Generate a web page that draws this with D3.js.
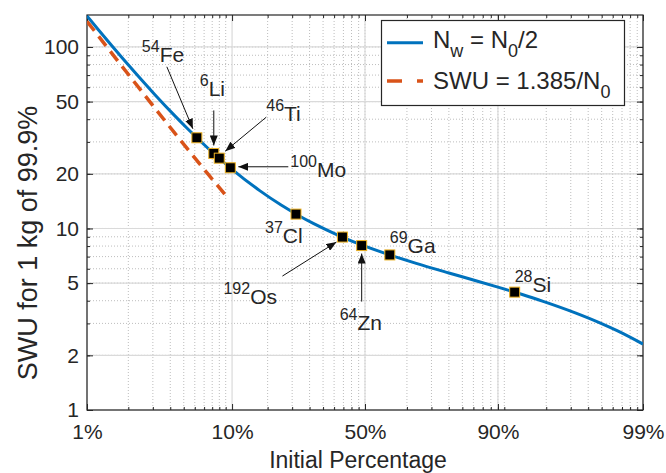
<!DOCTYPE html>
<html><head><meta charset="utf-8">
<script src="https://cdn.jsdelivr.net/npm/d3@7"></script>
<style>
body{margin:0;background:#fff}
text{font-family:"Liberation Sans",Arial,Helvetica,sans-serif;fill:#262626}
</style>
</head><body>
<svg id="c" width="666" height="473"></svg>
<script>
// ---------------- data ----------------
const curvePct = [1, 1.2, 1.5, 2, 3, 4, 5, 7, 10, 15, 20, 25, 30, 40, 50, 60, 70, 80, 85, 90, 93, 95, 97, 98, 98.5, 99];
const curveSWU = [148.2, 124.9, 101.6, 78.24, 54.76, 42.92, 35.77, 27.49, 21.18, 16.11, 13.46, 11.80, 10.63, 9.06, 7.99, 7.155, 6.423, 5.688, 5.269, 4.753, 4.340, 3.970, 3.430, 3.012, 2.719, 2.308];
const dashPct = [1, 2, 3, 5, 7, 9.09];
const dashSWU = [138.5, 69.25, 46.17, 27.70, 19.79, 15.24];
const isoMass = ["54", "6", "46", "100", "37", "192", "64", "69", "28"];
const isoSym  = ["Fe", "Li", "Ti", "Mo", "Cl", "Os", "Zn", "Ga", "Si"];
const isoPct  = [5.845, 7.59, 8.25, 9.74, 24.22, 40.78, 48.63, 60.11, 92.23];
const isoSWU  = [31.6, 25.9, 24.4, 21.6, 12.0, 8.97, 8.05, 7.15, 4.46];
const xTickPct = [1, 10, 50, 90, 99];
const xTickLabels = ["1%", "10%", "50%", "90%", "99%"];
const yTicks = [1, 2, 5, 10, 20, 50, 100];
const yTickLabels = ["1", "2", "5", "10", "20", "50", "100"];
const xTitle = "Initial Percentage";
const yTitle = "SWU for 1 kg of 99.9%";

// ---------------- layout ----------------
const L = 87, R = 643, T = 15, B = 410;
const BLUE = "#0072BD", ORANGE = "#D95319", GOLD = "#EDB120", AX = "#262626";
// label/arrow offsets relative to each marker (pixels)
const labelOff = [[-55,-76],[-14,-57],[47,-37],[60,9.5],[-31,28.6],[-119,67],[-22,84],[0,-1.6],[0,-0.5]];
const arrowOff = [[[-30,-71],[-4,-9]],[[0,-43],[0,-8]],[[47,-41],[6,-7]],[[58,-1],[8,-1]],null,[[-60,39],[-6,5]],[[0,56],[0,8]],null,null];

const logit = p => Math.log(p / (100 - p));
const x = d3.scaleLinear().domain([logit(1), logit(99)]).range([L, R]);
const y = d3.scaleLog().domain([1, 150]).range([B, T]);
const X = p => x(logit(p));

const svg = d3.select("#c");
const defs = svg.append("defs");
defs.append("clipPath").attr("id","clip").append("rect").attr("x",L).attr("y",T).attr("width",R-L).attr("height",B-T);
defs.append("marker").attr("id","ah").attr("markerUnits","userSpaceOnUse")
  .attr("markerWidth",11).attr("markerHeight",8).attr("refX",10).attr("refY",4).attr("orient","auto")
  .append("path").attr("d","M0,0L10,4L0,8Z").attr("fill","#111");

// minor tick positions (log of odds)
const minorOdds = [];
for (let k = -2; k <= 1; k++) for (let d = 1; d <= 9; d++) {
  const o = d * Math.pow(10, k);
  const lo = Math.log(o);
  if (lo > logit(1) + 1e-6 && lo < logit(99) - 1e-6) minorOdds.push(lo);
}
const minorY = [];
for (let k = 0; k <= 2; k++) for (let d = 1; d <= 9; d++) {
  const v = d * Math.pow(10, k);
  if (v > 1 && v < 150) minorY.push(v);
}

// grid
const grid = svg.append("g");
grid.selectAll(".mgx").data(minorOdds).join("line")
  .attr("x1", d => x(d)).attr("x2", d => x(d)).attr("y1", T).attr("y2", B)
  .attr("stroke", "#bdbdbd").attr("stroke-width", 1).attr("stroke-dasharray", "1,2");
grid.selectAll(".mgy").data(minorY).join("line")
  .attr("x1", L).attr("x2", R).attr("y1", d => y(d)).attr("y2", d => y(d))
  .attr("stroke", "#bdbdbd").attr("stroke-width", 1).attr("stroke-dasharray", "1,2");
grid.selectAll(".Mgx").data(xTickPct).join("line")
  .attr("x1", d => X(d)).attr("x2", d => X(d)).attr("y1", T).attr("y2", B)
  .attr("stroke", "#dadada").attr("stroke-width", 1.2);
grid.selectAll(".Mgy").data(yTicks).join("line")
  .attr("x1", L).attr("x2", R).attr("y1", d => y(d)).attr("y2", d => y(d))
  .attr("stroke", "#dadada").attr("stroke-width", 1.2);

// axes
function styleAxis(g){ g.select(".domain").remove(); g.selectAll(".tick line").attr("stroke", AX); g.selectAll("text").attr("fill", AX).style("font-size","21px").attr("font-family", null); }
svg.append("g").attr("transform", `translate(0,${B})`)
  .call(d3.axisBottom(x).tickValues(xTickPct.map(logit)).tickSize(-6).tickPadding(14).tickFormat((d,i)=>xTickLabels[i]))
  .call(styleAxis);
svg.append("g").attr("transform", `translate(0,${B})`)
  .call(d3.axisBottom(x).tickValues(minorOdds).tickSize(-3).tickFormat(""))
  .call(styleAxis);
svg.append("g").attr("transform", `translate(0,${T})`)
  .call(d3.axisTop(x).tickValues(xTickPct.map(logit)).tickSize(-6).tickFormat(""))
  .call(styleAxis);
svg.append("g").attr("transform", `translate(0,${T})`)
  .call(d3.axisTop(x).tickValues(minorOdds).tickSize(-3).tickFormat(""))
  .call(styleAxis);
svg.append("g").attr("transform", `translate(${L},0)`)
  .call(d3.axisLeft(y).tickValues(yTicks).tickSize(-6).tickPadding(8).tickFormat((d,i)=>yTickLabels[i]))
  .call(styleAxis);
svg.append("g").attr("transform", `translate(${L},0)`)
  .call(d3.axisLeft(y).tickValues(minorY).tickSize(-3).tickFormat(""))
  .call(styleAxis);
svg.append("g").attr("transform", `translate(${R},0)`)
  .call(d3.axisRight(y).tickValues(yTicks).tickSize(-6).tickFormat(""))
  .call(styleAxis);
svg.append("g").attr("transform", `translate(${R},0)`)
  .call(d3.axisRight(y).tickValues(minorY).tickSize(-3).tickFormat(""))
  .call(styleAxis);

// box
svg.append("rect").attr("x", L).attr("y", T).attr("width", R-L).attr("height", B-T)
  .attr("fill", "none").attr("stroke", AX).attr("stroke-width", 1.2);

// series
const plot = svg.append("g").attr("clip-path", "url(#clip)");
const line = d3.line().x(d => X(d[0])).y(d => y(d[1])).curve(d3.curveMonotoneX);
plot.append("path").datum(dashPct.map((p,i)=>[p, dashSWU[i]]))
  .attr("d", line).attr("fill","none").attr("stroke", ORANGE).attr("stroke-width", 3.5).attr("stroke-dasharray","12,7");
plot.append("path").datum(curvePct.map((p,i)=>[p, curveSWU[i]]))
  .attr("d", line).attr("fill","none").attr("stroke", BLUE).attr("stroke-width", 3);

// arrows & labels
const ann = svg.append("g");
isoPct.forEach((p,i) => {
  const mx = X(p), my = y(isoSWU[i]);
  const a = arrowOff[i];
  if (a) ann.append("line").attr("x1", mx+a[0][0]).attr("y1", my+a[0][1]).attr("x2", mx+a[1][0]).attr("y2", my+a[1][1])
    .attr("stroke","#111").attr("stroke-width",1).attr("marker-end","url(#ah)");
  const t = ann.append("text").attr("x", mx+labelOff[i][0]).attr("y", my+labelOff[i][1]);
  t.append("tspan").attr("font-size", 16).attr("dy", -10).text(isoMass[i]);
  t.append("tspan").attr("font-size", 21).attr("dy", 10).text(isoSym[i]);
});

// markers
svg.append("g").selectAll("rect").data(isoPct).join("rect")
  .attr("x", (d) => X(d) - 5).attr("y", (d,i) => y(isoSWU[i]) - 5)
  .attr("width", 10).attr("height", 10)
  .attr("fill", "#000").attr("stroke", GOLD).attr("stroke-width", 1);

// axis titles
svg.append("text").attr("x", 358).attr("y", 468).attr("text-anchor","middle").style("font-size","23px").text(xTitle);
svg.append("text").attr("transform","translate(37,243) rotate(-90)").attr("text-anchor","middle").style("font-size","27px").text(yTitle);

// legend
const lg = svg.append("g");
lg.append("rect").attr("x", 381.5).attr("y", 20.5).attr("width", 243).attr("height", 85)
  .attr("fill","#fff").attr("stroke", AX).attr("stroke-width", 1.2);
lg.append("line").attr("x1",387).attr("x2",423).attr("y1",42.7).attr("y2",42.7).attr("stroke",BLUE).attr("stroke-width",3);
lg.append("line").attr("x1",387).attr("x2",423).attr("y1",81).attr("y2",81).attr("stroke",ORANGE).attr("stroke-width",3.5).attr("stroke-dasharray","15,15");
const t1 = lg.append("text").attr("x", 433).attr("y", 48).style("font-size","24px");
t1.append("tspan").text("N");
t1.append("tspan").attr("dy", 9).style("font-size","18px").text("w");
t1.append("tspan").attr("dy", -9).text(" = N");
t1.append("tspan").attr("dy", 9).style("font-size","18px").text("0");
t1.append("tspan").attr("dy", -9).text("/2");
const t2 = lg.append("text").attr("x", 433).attr("y", 89).style("font-size","24px");
t2.append("tspan").text("SWU = 1.385/N");
t2.append("tspan").attr("dy", 9).style("font-size","18px").text("0");
</script>
</body></html>
